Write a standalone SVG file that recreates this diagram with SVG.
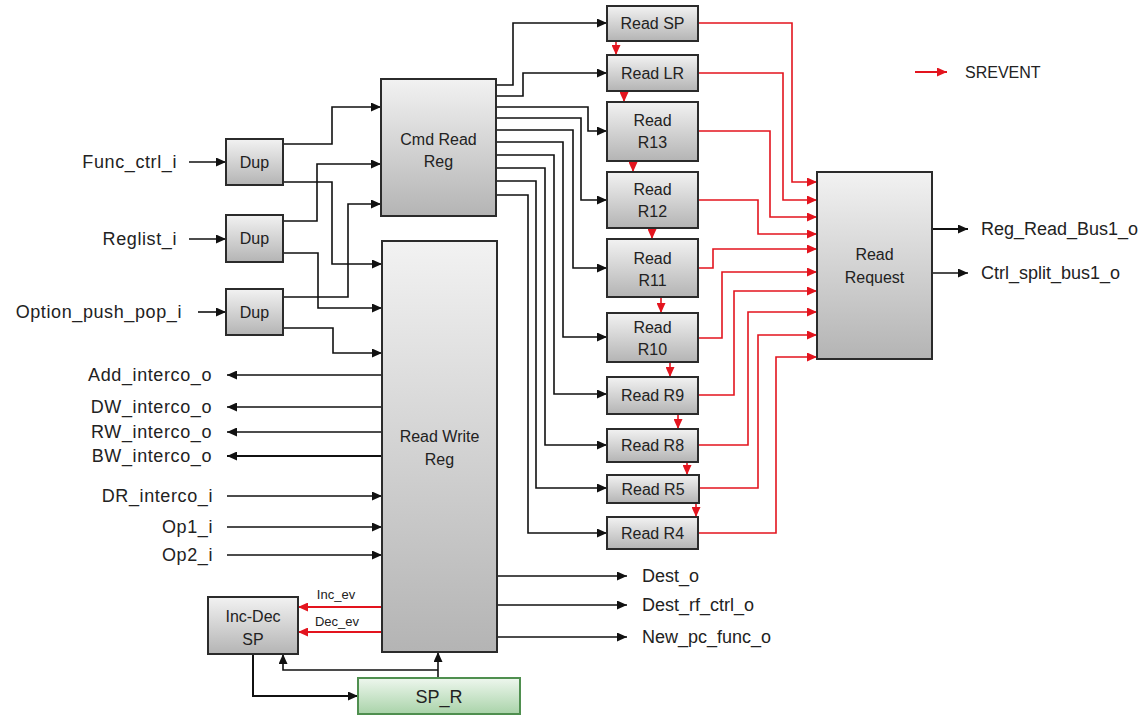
<svg xmlns="http://www.w3.org/2000/svg" width="1148" height="716" viewBox="0 0 1148 716">
<defs>
<linearGradient id="g" x1="0" y1="0" x2="0" y2="1">
<stop offset="0" stop-color="#f2f2f2"/>
<stop offset="1" stop-color="#b4b4b4"/>
</linearGradient>
<linearGradient id="gg" x1="0" y1="0" x2="0" y2="1">
<stop offset="0" stop-color="#eef7ee"/>
<stop offset="1" stop-color="#a9d3a9"/>
</linearGradient>
<marker id="ab" markerUnits="userSpaceOnUse" markerWidth="10" markerHeight="9" refX="10" refY="4.5" orient="auto">
<path d="M0,0 L10,4.5 L0,9 z" fill="#111"/>
</marker>
<marker id="ar" markerUnits="userSpaceOnUse" markerWidth="10" markerHeight="9" refX="10" refY="4.5" orient="auto">
<path d="M0,0 L10,4.5 L0,9 z" fill="#e3141e"/>
</marker>
<style>
.box{fill:url(#g);stroke:#2b2b2b;stroke-width:2}
.sp{fill:url(#gg);stroke:#4f8f4f;stroke-width:2}
.t{font-family:"Liberation Sans",Arial,sans-serif;font-size:16px;fill:#222;text-anchor:middle}
.io{font-family:"Liberation Sans",Arial,sans-serif;font-size:18px;fill:#222}
.e{text-anchor:end;letter-spacing:0.6px}
.s{font-family:"Liberation Sans",Arial,sans-serif;font-size:13px;fill:#222;text-anchor:middle}
.w{fill:none;stroke:#111;stroke-width:1.6;marker-end:url(#ab)}
.r{fill:none;stroke:#e3141e;stroke-width:1.6;marker-end:url(#ar)}
</style>
</defs>
<rect width="1148" height="716" fill="#fff"/>

<g id="connectors">
<path class="w" d="M189,162 H226"/>
<path class="w" d="M189,239 H226"/>
<path class="w" d="M198,312 H226"/>
<path class="w" d="M283,144 H332 V107 H381"/>
<path class="w" d="M283,182 H332 V264 H382"/>
<path class="w" d="M283,221 H317 V164 H381"/>
<path class="w" d="M283,253 H318 V308 H382"/>
<path class="w" d="M283,297 H348 V204 H381"/>
<path class="w" d="M283,328 H333 V353 H382"/>
<path class="w" d="M496,85 H513 V23 H607"/>
<path class="w" d="M496,96 H523 V73 H607"/>
<path class="w" d="M496,107 H588 V131 H607"/>
<path class="w" d="M496,118 H581 V200 H607"/>
<path class="w" d="M496,130 H573 V268 H607"/>
<path class="w" d="M496,142 H563 V337 H607"/>
<path class="w" d="M496,155 H554 V394 H607"/>
<path class="w" d="M496,168 H545 V445 H607"/>
<path class="w" d="M496,181 H536 V488 H607"/>
<path class="w" d="M496,195 H528 V533 H607"/>
<path class="r" d="M616,41 V55"/>
<path class="r" d="M624,91 V102"/>
<path class="r" d="M633,161 V172"/>
<path class="r" d="M652,228 V239"/>
<path class="r" d="M661,297 V313"/>
<path class="r" d="M670,362 V377"/>
<path class="r" d="M678,414 V429"/>
<path class="r" d="M687,462 V475"/>
<path class="r" d="M696,503 V517"/>
<path class="r" d="M698,23 H792 V182 H817"/>
<path class="r" d="M698,73 H783 V200 H817"/>
<path class="r" d="M698,131 H770 V217 H817"/>
<path class="r" d="M698,200 H758 V234 H817"/>
<path class="r" d="M698,268 H713 V249 H817"/>
<path class="r" d="M698,338 H722 V272 H817"/>
<path class="r" d="M698,395 H734 V291 H817"/>
<path class="r" d="M698,445 H748 V312 H817"/>
<path class="r" d="M699,488 H758 V335 H817"/>
<path class="r" d="M698,533 H776 V357 H817"/>
<path class="w" d="M932,229 H968" style="stroke-width:2"/>
<path class="w" d="M932,273 H968"/>
<path class="r" d="M915,72 H947" style="stroke-width:2"/>
<path class="w" d="M382,375 H227"/>
<path class="w" d="M382,407 H227"/>
<path class="w" d="M382,432 H227"/>
<path class="w" d="M382,456 H227" style="stroke-width:2"/>
<path class="w" d="M227,496 H382"/>
<path class="w" d="M227,527 H382"/>
<path class="w" d="M227,555 H382"/>
<path class="w" d="M497,576 H627"/>
<path class="w" d="M497,605 H627"/>
<path class="w" d="M497,637 H627"/>
<path class="r" d="M382,607 H298" style="stroke-width:2"/>
<path class="r" d="M382,632 H298" style="stroke-width:2"/>
<path class="w" d="M253,654 V696 H358" style="stroke-width:2"/>
<path class="w" d="M438,678 V652"/>
<path class="w" d="M438,670 H283 V654"/>
</g>

<g id="labels">
<text class="io e" x="177" y="168">Func_ctrl_i</text>
<text class="io e" x="177" y="245">Reglist_i</text>
<text class="io e" x="182" y="318">Option_push_pop_i</text>
<text class="io e" x="212" y="381">Add_interco_o</text>
<text class="io e" x="212" y="413">DW_interco_o</text>
<text class="io e" x="212" y="438">RW_interco_o</text>
<text class="io e" x="212" y="462">BW_interco_o</text>
<text class="io e" x="213" y="502">DR_interco_i</text>
<text class="io e" x="213" y="533">Op1_i</text>
<text class="io e" x="213" y="561">Op2_i</text>
<text class="io" x="642" y="582">Dest_o</text>
<text class="io" x="642" y="611">Dest_rf_ctrl_o</text>
<text class="io" x="642" y="643">New_pc_func_o</text>
<text class="io" x="981" y="235">Reg_Read_Bus1_o</text>
<text class="io" x="981" y="279">Ctrl_split_bus1_o</text>
<text class="s" x="336" y="599">Inc_ev</text>
<text class="s" x="337" y="626">Dec_ev</text>
<text x="965" y="78" style="font-family:'Liberation Sans',Arial,sans-serif;font-size:16px;fill:#222">SREVENT</text>
</g>

<g id="dup1"><rect class="box" x="226" y="139" width="57" height="46"/><text class="t" x="254.5" y="168">Dup</text></g>
<g id="dup2"><rect class="box" x="226" y="215" width="57" height="47"/><text class="t" x="254.5" y="244">Dup</text></g>
<g id="dup3"><rect class="box" x="226" y="289" width="57" height="46"/><text class="t" x="254.5" y="318">Dup</text></g>
<g id="cmd-read-reg"><rect class="box" x="381" y="79" width="115" height="137"/><text class="t" x="438.5" y="145">Cmd Read</text><text class="t" x="438.5" y="167">Reg</text></g>
<g id="read-write-reg"><rect class="box" x="382" y="241" width="115" height="411"/><text class="t" x="439.5" y="442">Read Write</text><text class="t" x="439.5" y="465">Reg</text></g>
<g id="read-sp"><rect class="box" x="607" y="6" width="91" height="35"/><text class="t" x="652.5" y="29">Read SP</text></g>
<g id="read-lr"><rect class="box" x="607" y="55" width="91" height="36"/><text class="t" x="652.5" y="79">Read LR</text></g>
<g id="read-r13"><rect class="box" x="607" y="102" width="91" height="59"/><text class="t" x="652.5" y="126">Read</text><text class="t" x="652.5" y="148">R13</text></g>
<g id="read-r12"><rect class="box" x="607" y="172" width="91" height="56"/><text class="t" x="652.5" y="195">Read</text><text class="t" x="652.5" y="217">R12</text></g>
<g id="read-r11"><rect class="box" x="607" y="239" width="91" height="58"/><text class="t" x="652.5" y="264">Read</text><text class="t" x="652.5" y="286">R11</text></g>
<g id="read-r10"><rect class="box" x="607" y="313" width="91" height="49"/><text class="t" x="652.5" y="333">Read</text><text class="t" x="652.5" y="355">R10</text></g>
<g id="read-r9"><rect class="box" x="607" y="377" width="91" height="37"/><text class="t" x="652.5" y="401">Read R9</text></g>
<g id="read-r8"><rect class="box" x="607" y="429" width="91" height="33"/><text class="t" x="652.5" y="451">Read R8</text></g>
<g id="read-r5"><rect class="box" x="607" y="475" width="92" height="28"/><text class="t" x="653" y="495">Read R5</text></g>
<g id="read-r4"><rect class="box" x="607" y="517" width="91" height="32"/><text class="t" x="652.5" y="539">Read R4</text></g>
<g id="read-request"><rect class="box" x="817" y="172" width="115" height="187"/><text class="t" x="874.5" y="260">Read</text><text class="t" x="874.5" y="283">Request</text></g>
<g id="inc-dec-sp"><rect class="box" x="208" y="597" width="90" height="57"/><text class="t" x="253" y="622">Inc-Dec</text><text class="t" x="253" y="645">SP</text></g>
<g id="sp-r"><rect class="sp" x="358" y="678" width="162" height="36"/><text class="io" x="439" y="703" text-anchor="middle">SP_R</text></g>
</svg>
